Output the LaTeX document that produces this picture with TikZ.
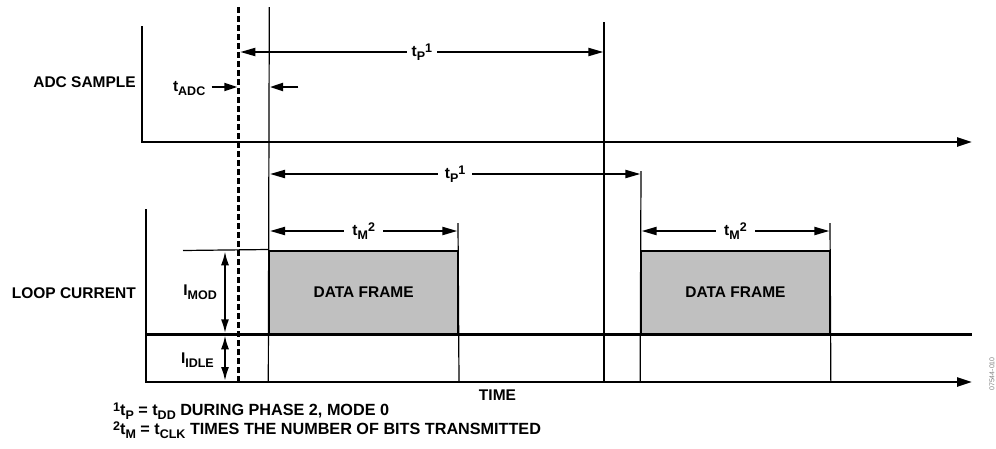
\documentclass[tikz,border=0pt]{standalone}
\usepackage{fontspec}
\setmainfont{Liberation Sans}
\usetikzlibrary{arrows.meta}
\definecolor{framegray}{HTML}{C0C0C0}
\newcommand{\lowtext}[1]{\raisebox{-4pt}{\fontsize{12.5}{12.5}\selectfont #1}}
\newcommand{\hightext}[1]{\raisebox{4pt}{\fontsize{12.5}{12.5}\selectfont #1}}

\begin{document}
\begin{tikzpicture}[x=1pt, y=-1pt,
    every node/.style={font=\bfseries\fontsize{15.5}{17}\selectfont, inner sep=0pt},
    axis/.style={line width=2.6pt, -{Triangle[length=15pt, width=9pt]}},
    marker/.style={line width=1.2pt},
    span/.style={line width=2pt, {Triangle[length=15pt, width=8pt]}-{Triangle[length=15pt, width=8pt]}},
    level/.style={line width=2pt, {Latex[length=14pt, width=8pt]}-{Latex[length=14pt, width=8pt]}},
    pointer/.style={line width=2pt, -{Triangle[length=13pt, width=8pt]}},
    frame/.style={fill=framegray, draw=black, line width=2pt, minimum width=188.7pt, minimum height=83.8pt},
    note/.style={font=\bfseries\fontsize{16.2}{17}\selectfont, anchor=west}]
        \useasboundingbox (0, 0) rectangle (996, 448);

        % axes
        \coordinate(adcTop) at (142, 26);
        \coordinate(adcOrigin) at (142, 142);
        \coordinate(adcEnd) at (972, 142);
        \coordinate(loopTop) at (146, 209);
        \coordinate(loopOrigin) at (146, 382);
        \coordinate(loopEnd) at (972, 382);
        \coordinate(idleStart) at (146, 334.3);
        \coordinate(idleEnd) at (972, 334.3);
        \draw[axis] (adcTop) -- (adcOrigin) -- (adcEnd);
        \draw[axis] (loopTop) -- (loopOrigin) -- (loopEnd);
        \draw[line width=2.6pt] (idleStart) -- (idleEnd);

        \node(ADCSample) at (136, 82.5)[anchor=east]{ADC SAMPLE};
        \node(LoopCurrent) at (136, 293)[anchor=east]{LOOP CURRENT};
        \node(Time) at (497.5, 395){TIME};

        % data frames
        \node(frameA)[frame] at (363.65, 292.4){DATA FRAME};
        \node(frameB)[frame] at (735.5, 292.4){DATA FRAME};

        % sample instant and markers
        \draw[line width=2.6pt, dash pattern=on 6pt off 3pt] (238.7, 7) -- (238.7, 382);
        \draw[marker] (269.3, 7) -- (frameA.south west |- loopOrigin);
        \draw[marker] (604, 22) -- (604, 382);
        \draw[marker] (641, 171) -- (frameB.south west |- loopOrigin);
        \draw[marker] (458, 223) -- (frameA.south east |- loopOrigin);
        \draw[marker] (830, 223) -- (frameB.south east |- loopOrigin);
        \draw[marker] (183, 250.5) -- (frameA.north west);

        % timing spans
        \draw[span] (240.3, 52) -- node[fill=white, inner xsep=5pt, inner ysep=2pt](tpTop){t\lowtext{P}\hightext{1}} (603.4, 52);
        \draw[span] (270, 174) -- node[fill=white, inner xsep=7pt, inner ysep=2pt](tpLow){t\lowtext{P}\hightext{1}} (640.4, 174);
        \draw[span] (270, 231) -- node[fill=white, inner xsep=8pt, inner ysep=2pt](tmA){t\lowtext{M}\hightext{2}} (457.4, 231);
        \draw[span] (641.6, 231) -- node[fill=white, inner xsep=8pt, inner ysep=2pt](tmB){t\lowtext{M}\hightext{2}} (829.4, 231);

        \node(tADC) at (205.5, 89)[anchor=east]{t\lowtext{ADC}};
        \draw[pointer] (211.7, 87) -- (237.3, 87);
        \draw[pointer] (298.3, 87) -- (270, 87);

        \draw[level] (225, 251.3) -- (225, 333.3);
        \draw[level] (225, 335.3) -- (225, 381);
        \node(IMod) at (217, 292)[anchor=east]{I\lowtext{MOD}};
        \node(IIdle) at (214, 360)[anchor=east]{I\lowtext{IDLE}};

        % notes
        \node(noteP) at (113, 411.5)[note]{\hightext{1}t\lowtext{P} = t\lowtext{DD} DURING PHASE 2, MODE 0};
        \node(noteM) at (113, 430)[note]{\hightext{2}t\lowtext{M} = t\lowtext{CLK} TIMES THE NUMBER OF BITS TRANSMITTED};

        \node(figId) at (992, 374)[rotate=90, font=\fontsize{7}{7}\selectfont, text=gray]{07544-010};
\end{tikzpicture}
\end{document}
